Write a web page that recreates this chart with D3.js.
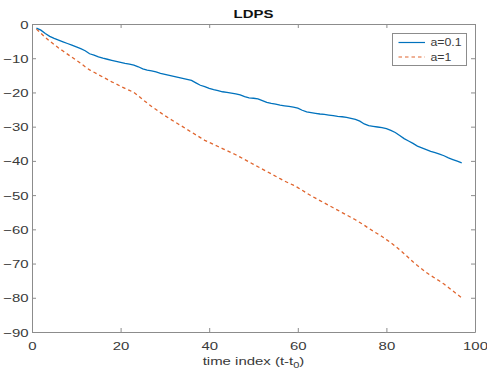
<!DOCTYPE html>
<html>
<head>
<meta charset="utf-8">
<script src="https://cdn.jsdelivr.net/npm/d3@7"></script>
<style>
	body { margin: 0; background: #fff; }
	text { font-family: 'Liberation Sans', Arial, sans-serif; }
</style>
</head>
<body>
<script>
const steps = d3.range(1, 98)

const seriesNames = ['a=0.1', 'a=1']

const smallA = [
	-1.2, -1.8, -2.8, -3.6, -4.2, -4.7, -5.2, -5.7, -6.2, -6.7,
	-7.2, -7.8, -8.7, -9.1, -9.6, -10.0, -10.3, -10.6, -10.9, -11.2,
	-11.5, -11.7, -12.0, -12.5, -13.1, -13.5, -13.7, -14.0, -14.4, -14.7,
	-15.0, -15.3, -15.6, -15.9, -16.2, -16.5, -17.2, -17.9, -18.3, -18.8,
	-19.2, -19.5, -19.8, -20.0, -20.2, -20.4, -20.7, -21.2, -21.6, -21.7,
	-21.9, -22.4, -22.9, -23.2, -23.4, -23.7, -23.9, -24.1, -24.3, -24.6,
	-25.2, -25.7, -25.9, -26.1, -26.3, -26.4, -26.6, -26.8, -27.0, -27.1,
	-27.3, -27.6, -27.9, -28.4, -29.2, -29.7, -29.9, -30.1, -30.3, -30.6,
	-31.1, -31.7, -32.6, -33.5, -34.2, -34.9, -35.7, -36.2, -36.7, -37.2,
	-37.6, -38.0, -38.5, -39.1, -39.6, -40.1, -40.6
]

const bigA = [
	-1.5, -2.7, -3.9, -5.0, -6.0, -7.0, -7.9, -8.8, -9.7, -10.6,
	-11.5, -12.5, -13.4, -14.1, -14.8, -15.5, -16.2, -16.9, -17.5, -18.2,
	-18.8, -19.4, -20.0, -21.0, -22.1, -23.1, -24.1, -25.0, -25.9, -26.8,
	-27.6, -28.4, -29.2, -30.0, -30.8, -31.6, -32.4, -33.2, -34.0, -34.6,
	-35.2, -35.8, -36.4, -37.0, -37.6, -38.2, -38.9, -39.6, -40.3, -41.0,
	-41.7, -42.4, -43.1, -43.8, -44.5, -45.2, -45.9, -46.5, -47.1, -47.8,
	-48.6, -49.4, -50.2, -50.9, -51.6, -52.3, -53.0, -53.7, -54.4, -55.1,
	-55.8, -56.5, -57.2, -58.0, -58.8, -59.7, -60.5, -61.3, -62.1, -63.0,
	-63.9, -64.9, -66.0, -67.1, -68.3, -69.5, -70.6, -71.6, -72.6, -73.5,
	-74.3, -75.1, -76.0, -77.0, -78.0, -79.0, -80.0
]

const xTicks = [0, 20, 40, 60, 80, 100]
const yTicks = [-90, -80, -70, -60, -50, -40, -30, -20, -10, 0]

const margin = {top: 24, right: 12, bottom: 39, left: 32}
const W = 487
const H = 371
const width = W - margin.left - margin.right
const height = H - margin.top - margin.bottom
const stretch = 1.3
const axisColor = '#8c8c8c'
const textColor = '#3a3a3a'

const svg = d3.select('body').append('svg')
	.attr('width', W)
	.attr('height', H)

const g = svg.append('g')
	.attr('transform', `translate(${margin.left},${margin.top})`)

const x = d3.scaleLinear().domain([0, 100]).range([0, width])
const y = d3.scaleLinear().domain([-90, 0]).range([height, 0])

// box + inward ticks on all four sides
const styleAxis = (sel) => {
	sel.select('.domain').attr('stroke', axisColor)
	sel.selectAll('.tick line').attr('stroke', axisColor)
}

g.append('g')
	.attr('transform', `translate(0,${height})`)
	.call(d3.axisBottom(x).tickValues(xTicks).tickSize(-4).tickSizeOuter(0))
	.call(styleAxis)
	.call(s => s.selectAll('.tick text')
		.attr('y', 0).attr('dy', 0)
		.attr('transform', `translate(0,18) scale(${stretch},1)`)
		.attr('fill', textColor)
		.style('font-size', '11.5px'))

g.append('g')
	.call(d3.axisTop(x).tickValues(xTicks).tickSize(-4).tickSizeOuter(0).tickFormat(''))
	.call(styleAxis)

g.append('g')
	.call(d3.axisLeft(y).tickValues(yTicks).tickSize(-4).tickSizeOuter(0))
	.call(styleAxis)
	.call(s => s.selectAll('.tick text')
		.attr('x', 0).attr('dy', '0.35em')
		.attr('transform', `translate(-3.5,0) scale(${stretch},1)`)
		.attr('fill', textColor)
		.style('font-size', '11.5px'))

g.append('g')
	.attr('transform', `translate(${width},0)`)
	.call(d3.axisRight(y).tickValues(yTicks).tickSize(-4).tickSizeOuter(0).tickFormat(''))
	.call(styleAxis)

// lines
const line = d3.line()
	.x((d, i) => x(steps[i]))
	.y(d => y(d))

g.append('path')
	.datum(smallA)
	.attr('fill', 'none')
	.attr('stroke', '#0072BD')
	.attr('stroke-width', 1.3)
	.attr('d', line)

g.append('path')
	.datum(bigA)
	.attr('fill', 'none')
	.attr('stroke', '#E0652E')
	.attr('stroke-width', 1.3)
	.attr('stroke-dasharray', '3.5,3')
	.attr('d', line)

// title + x label
svg.append('text')
	.attr('transform', `translate(${margin.left + width / 2},18) scale(${stretch},1)`)
	.attr('text-anchor', 'middle')
	.style('font-size', '11.5px')
	.style('font-weight', 'bold')
	.attr('fill', '#111')
	.text('LDPS')

const xl = svg.append('text')
	.attr('transform', `translate(${margin.left + width / 2},365) scale(${stretch},1)`)
	.attr('text-anchor', 'middle')
	.style('font-size', '11.5px')
	.attr('fill', textColor)
xl.append('tspan').text('time index (t-t')
xl.append('tspan').attr('dy', 3).style('font-size', '8.5px').text('0')
xl.append('tspan').attr('dy', -3).text(')')

// legend
const legend = svg.append('g')
	.attr('transform', 'translate(392.5,33.5)')

legend.append('rect')
	.attr('width', 74)
	.attr('height', 32)
	.attr('fill', '#fff')
	.attr('stroke', axisColor)

const rows = [
	{name: seriesNames[0], color: '#0072BD', dash: null},
	{name: seriesNames[1], color: '#E0652E', dash: '3.5,3'}
]

rows.forEach((r, i) => {
	const yy = 9 + i * 14.5
	legend.append('line')
		.attr('x1', 6).attr('x2', 32.5)
		.attr('y1', yy).attr('y2', yy)
		.attr('stroke', r.color)
		.attr('stroke-width', 1.2)
		.attr('stroke-dasharray', r.dash)
	legend.append('text')
		.attr('transform', `translate(38,${yy}) scale(1.12,1)`)
		.attr('dy', '0.35em')
		.style('font-size', '11px')
		.attr('fill', textColor)
		.text(r.name)
})
</script>
</body>
</html>
